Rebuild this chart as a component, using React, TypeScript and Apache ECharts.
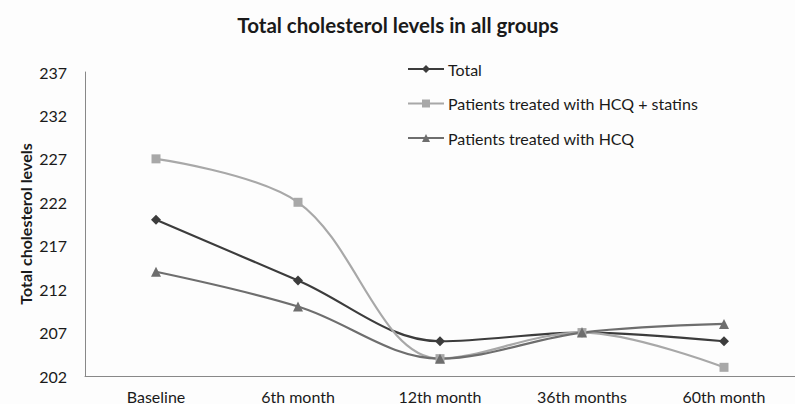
import React, { useEffect, useRef } from "react";
import * as echarts from "echarts";

const categories = ["Baseline", "6th month", "12th month", "36th months", "60th month"];
const totalValues = [220, 213, 206, 207, 206];
const statinsValues = [227, 222, 204, 207, 203];
const hcqValues = [214, 210, 204, 207, 208];
const seriesNames = ["Total", "Patients treated with HCQ + statins", "Patients treated with HCQ"];

const FONT = "Lato, 'Open Sans', sans-serif";

export default function App() {
  const ref = useRef<HTMLDivElement>(null);
  useEffect(() => {
    document.body.style.margin = "0";
    const chart = echarts.init(ref.current!, null, { renderer: "svg" });
    const mk = (name: string, data: number[], color: string, symbol: string, size: number) => ({
      name,
      type: "line",
      data,
      smooth: 0.35,
      symbol,
      symbolSize: size,
      lineStyle: { color, width: 2.2 },
      itemStyle: { color },
    });
    chart.setOption({
      animation: false,
      backgroundColor: "#fdfdfd",
      title: {
        text: "Total cholesterol levels in all groups",
        left: 393,
        textAlign: "center",
        top: 9,
        textStyle: { fontFamily: FONT, fontSize: 20.5, fontWeight: "bold", color: "#1a1a1a" },
      },
      legend: {
        orient: "vertical",
        left: 407,
        top: 61,
        padding: 0,
        itemWidth: 36,
        itemHeight: 10,
        itemGap: 18.5,
        data: seriesNames,
        textStyle: { fontFamily: FONT, fontSize: 16, color: "#1a1a1a", padding: [0, 0, 0, -1] },
      },
      grid: { left: 85, top: 72, width: 717, bottom: 28, containLabel: false },
      xAxis: {
        type: "category",
        data: categories,
        boundaryGap: true,
        axisLine: { lineStyle: { color: "#888", width: 1 } },
        axisTick: { show: false },
        axisLabel: { fontFamily: FONT, fontSize: 16, color: "#1a1a1a", margin: 12 },
      },
      yAxis: {
        type: "value",
        min: 202,
        max: 237,
        interval: 5,
        name: "Total cholesterol levels",
        nameLocation: "middle",
        nameGap: 52,
        nameMoveOverlap: false,
        nameTextStyle: { fontFamily: FONT, fontSize: 16, fontWeight: "bold", color: "#1a1a1a" },
        axisLine: { show: true, lineStyle: { color: "#888", width: 1 } },
        axisTick: { show: false },
        splitLine: { show: false },
        axisLabel: { fontFamily: FONT, fontSize: 16, color: "#1a1a1a", margin: 18 },
      },
      series: [
        mk(seriesNames[0], totalValues, "#3c3c3c", "diamond", 10),
        mk(seriesNames[1], statinsValues, "#a8a8a8", "rect", 9),
        mk(seriesNames[2], hcqValues, "#6e6e6e", "triangle", 10),
      ],
    });
    return () => chart.dispose();
  }, []);
  return <div ref={ref} style={{ width: 795, height: 404 }} />;
}
